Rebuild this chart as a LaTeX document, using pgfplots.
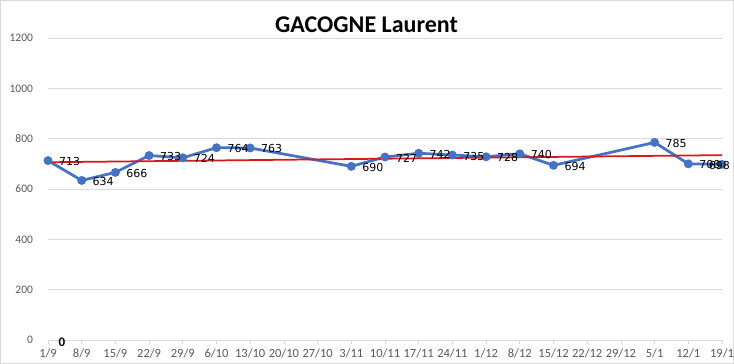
\documentclass[border=0pt]{standalone}
\usepackage{pgfplots}
\pgfplotsset{compat=1.18}
\usepackage{fontspec}
\setmainfont{Carlito}
\newfontfamily\carlito{Carlito}
\newfontfamily\dejavu{DejaVu Sans}
\definecolor{serieblue}{RGB}{68,114,196}
\definecolor{trendred}{RGB}{215,25,25}
\definecolor{gridgray}{RGB}{217,217,217}
\definecolor{labelgray}{RGB}{89,89,89}
\begin{document}
\begin{tikzpicture}[x=1pt,y=1pt]
\useasboundingbox (0,0) rectangle (734,364);
\draw[gridgray, line width=1pt] (0.5,0.5) rectangle (733.5,363.5);
\node[anchor=base, font=\carlito\bfseries\fontsize{24}{28}\selectfont] at (366.5,331) {GACOGNE Laurent};
\begin{axis}[
  at={(48pt,24pt)}, anchor=south west,
  scale only axis, width=674pt, height=302pt,
  xmin=0, xmax=20, ymin=0, ymax=1200,
  clip=false,
  axis x line*=bottom, axis y line*=left,
  x axis line style={draw=gridgray, line width=0.8pt, -},
  y axis line style={draw=none},
  ytick={0,200,...,1200},
  ymajorgrids, grid style={draw=gridgray, line width=0.8pt},
  ytick style={draw=none},
  xtick={0,1,...,20},
  xticklabels={1/9,8/9,15/9,22/9,29/9,6/10,13/10,20/10,27/10,3/11,10/11,17/11,24/11,1/12,8/12,15/12,22/12,29/12,5/1,12/1,19/1},
  xtick style={draw=gridgray, line width=0.8pt},
  tick align=outside, major tick length=4pt,
  /pgf/number format/assume math mode=true,
  /pgf/number format/1000 sep={},
  yticklabel style={font=\carlito\fontsize{11.5}{13}\selectfont, text=labelgray, xshift=-7.5pt},
  xticklabel style={font=\carlito\fontsize{12.5}{14}\selectfont, text=labelgray, yshift=-1pt},
  lbl/.style={draw=none, mark=none, nodes near coords,
    every node near coord/.append style={text=black, font=\dejavu\fontsize{11}{13}\selectfont}},
]
\addplot[color=serieblue, line width=2.75pt, mark=*, mark size=3pt]
coordinates {
(0,713) (1,634) (2,666) (3,733) (4,724) (5,764) (6,763)
(9,690) (10,727) (11,742) (12,735) (13,728) (14,740) (15,694)
(18,785) (19,700) (20,698)
};
\addplot[lbl, every node near coord/.append style={anchor=west, xshift=7.5pt, yshift=-1pt}]
coordinates {
(0,713) (1,634) (2,666) (3,733) (4,724) (5,764) (6,763)
(9,690) (10,727) (11,742) (12,735) (13,728) (14,740) (15,694)
(18,785) (19,700)
};
\addplot[lbl, every node near coord/.append style={anchor=east, xshift=11.5pt, yshift=-1pt}]
coordinates {(20,698)};
\addplot[draw=none, mark=none, nodes near coords,
  every node near coord/.append style={anchor=west, xshift=7pt, yshift=-2pt, text=black, font=\carlito\bfseries\fontsize{13}{15}\selectfont}]
coordinates {(0,0)};
\addplot[color=trendred, line width=1.75pt, mark=none] coordinates {(0,706.3) (20,734.5)};
\end{axis}
\end{tikzpicture}
\end{document}
